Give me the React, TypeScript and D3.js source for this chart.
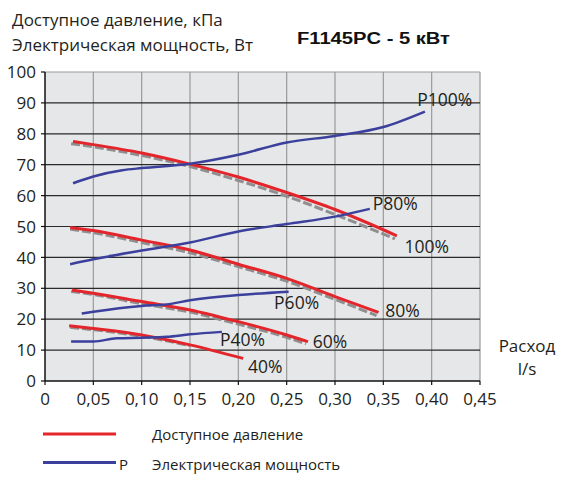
import React from "react";
import * as d3 from "d3";

const W = 565;
const H = 483;

const xTicks = [0, 0.05, 0.1, 0.15, 0.2, 0.25, 0.3, 0.35, 0.4, 0.45];
const yTicks = [0, 10, 20, 30, 40, 50, 60, 70, 80, 90, 100];

// Pressure curves (red), [flow l/s, kPa]
const p100: [number, number][] = [[0.029, 77.5], [0.05, 76.5], [0.1, 73.8], [0.15, 70.2], [0.2, 66], [0.25, 61], [0.3, 55.5], [0.364, 47]];
const p80: [number, number][] = [[0.026, 49.7], [0.05, 48.7], [0.1, 45.6], [0.15, 42.4], [0.2, 37.8], [0.25, 33.2], [0.3, 27.3], [0.345, 22.2]];
const p60: [number, number][] = [[0.028, 29.4], [0.05, 28.4], [0.1, 25.7], [0.15, 23], [0.2, 19.2], [0.25, 14.9], [0.272, 12.7]];
const p40: [number, number][] = [[0.025, 17.9], [0.05, 17.0], [0.1, 14.9], [0.15, 11.7], [0.205, 7.3]];

// Grey dashed reference curves
const g100: [number, number][] = [[0.027, 76.8], [0.05, 75.8], [0.1, 73.0], [0.15, 69.4], [0.2, 64.9], [0.25, 59.8], [0.3, 53.9], [0.362, 46.0]];
const g80: [number, number][] = [[0.026, 49.1], [0.05, 48.0], [0.1, 44.8], [0.15, 41.5], [0.2, 37.0], [0.25, 32.3], [0.3, 26.4], [0.343, 21.2]];
const g60: [number, number][] = [[0.027, 29.0], [0.05, 28.0], [0.1, 25.0], [0.15, 22.3], [0.2, 18.4], [0.25, 14.1], [0.27, 12.0]];
const g40: [number, number][] = [[0.026, 17.4], [0.05, 16.6], [0.1, 14.5], [0.15, 11.4]];

// Electrical power curves (blue), [flow l/s, W]
const e100: [number, number][] = [[0.029, 64], [0.05, 66.2], [0.08, 68.2], [0.1, 68.9], [0.15, 70.3], [0.2, 73.2], [0.25, 77.2], [0.3, 79.3], [0.35, 82.2], [0.393, 87.2]];
const e80: [number, number][] = [[0.026, 37.8], [0.05, 39.4], [0.1, 42.2], [0.15, 44.8], [0.2, 48.4], [0.25, 50.8], [0.3, 53.2], [0.336, 55.7]];
const e60: [number, number][] = [[0.038, 21.8], [0.05, 22.4], [0.1, 24.3], [0.126, 24.8], [0.15, 26.1], [0.2, 27.8], [0.252, 28.9]];
const e40: [number, number][] = [[0.027, 12.8], [0.05, 12.8], [0.074, 13.8], [0.1, 14.0], [0.126, 14.3], [0.15, 15.1], [0.183, 15.9]];

const redSeries = [p100, p80, p60, p40];
const greySeries = [g100, g80, g60, g40];
const blueSeries = [e100, e80, e60, e40];

const curveLabels = ["100%", "80%", "60%", "40%"];
const powerLabels = ["P100%", "P80%", "P60%", "P40%"];

const RED = "#e3262b";
const BLUE = "#3a409c";
const GREY = "#8f8f8f";
const TXT = "#231f20";
const FONT = "'Open Sans', 'Noto Sans', sans-serif";

export default function App() {
  const x = d3.scaleLinear().domain([0, 0.45]).range([45, 480]);
  const y = d3.scaleLinear().domain([0, 100]).range([381, 72]);
  const line = d3
    .line<[number, number]>()
    .x((d) => x(d[0]))
    .y((d) => y(d[1]))
    .curve(d3.curveMonotoneX);

  const fmt = (v: number) => (v === 0 ? "0" : d3.format(".2f")(v).replace(".", ","));

  // label anchors (data coords) for curve labels
  const redLabelPos: [number, number][] = [[0.372, 41.5], [0.352, 20.8], [0.277, 10.8], [0.21, 2.6]];
  const blueLabelPos: [number, number][] = [[0.385, 89.1], [0.339, 55.2], [0.237, 23.3], [0.181, 11.2]];

  return (
    <svg
      width={W}
      height={H}
      style={{ position: "absolute", left: 0, top: 0, background: "#fff" }}
      fontFamily={FONT}
    >
      <rect x={x(0)} y={y(100)} width={x(0.45) - x(0)} height={y(0) - y(100)} fill="#e6e7e9" />
      {xTicks.slice(1).map((t) => (
        <line key={"vx" + t} x1={x(t)} x2={x(t)} y1={y(0)} y2={y(100)} stroke="#9a9a9a" strokeWidth={1.2} />
      ))}
      {yTicks.slice(1, -1).map((t) => (
        <line key={"hy" + t} x1={x(0)} x2={x(0.45)} y1={y(t)} y2={y(t)} stroke="#2a2a2a" strokeWidth={1.2} />
      ))}
      <line x1={x(0)} x2={x(0.45)} y1={y(100)} y2={y(100)} stroke="#9a9a9a" strokeWidth={1.2} />
      {/* axes */}
      <line x1={x(0)} x2={x(0)} y1={y(0)} y2={y(100)} stroke="#111" strokeWidth={1.5} />
      <line x1={x(0)} x2={x(0.45)} y1={y(0)} y2={y(0)} stroke="#111" strokeWidth={1.5} />
      {yTicks.map((t) => (
        <g key={"yt" + t}>
          <line x1={x(0) - 4} x2={x(0)} y1={y(t)} y2={y(t)} stroke="#111" strokeWidth={1.2} />
          <text x={36} y={y(t)} dy="0.36em" textAnchor="end" fontSize={17} fill={TXT}>
            {t}
          </text>
        </g>
      ))}
      {xTicks.map((t) => (
        <g key={"xt" + t}>
          <line x1={x(t)} x2={x(t)} y1={y(0)} y2={y(0) + 4} stroke="#111" strokeWidth={1.2} />
          <text x={x(t)} y={405} textAnchor="middle" fontSize={17} fill={TXT}>
            {fmt(t)}
          </text>
        </g>
      ))}

      {/* curves */}
      {greySeries.map((s, i) => (
        <path key={"g" + i} d={line(s) || ""} fill="none" stroke={GREY} strokeWidth={3} strokeDasharray="9 3" />
      ))}
      {redSeries.map((s, i) => (
        <path key={"r" + i} d={line(s) || ""} fill="none" stroke={RED} strokeWidth={3} />
      ))}
      {blueSeries.map((s, i) => (
        <path key={"b" + i} d={line(s) || ""} fill="none" stroke={BLUE} strokeWidth={2.5} />
      ))}

      {curveLabels.map((l, i) => (
        <text key={"rl" + i} x={x(redLabelPos[i][0])} y={y(redLabelPos[i][1])} fontSize={17.5} fill={TXT}>
          {l}
        </text>
      ))}
      {powerLabels.map((l, i) => (
        <text key={"bl" + i} x={x(blueLabelPos[i][0])} y={y(blueLabelPos[i][1])} fontSize={17.5} fill={TXT}>
          {l}
        </text>
      ))}

      {/* titles */}
      <text x={12} y={26} fontSize={17} fill={TXT}>Доступное давление, кПа</text>
      <text x={12} y={51} fontSize={17} fill={TXT}>Электрическая мощность, Вт</text>
      <text
        x={297}
        y={44}
        fontSize={16}
        fontWeight="bold"
        fontFamily="'Liberation Sans', Arial, sans-serif"
        fill="#111"
        textLength={153}
        lengthAdjust="spacingAndGlyphs"
      >
        F1145PC - 5 кВт
      </text>
      <text x={527} y={352} textAnchor="middle" fontSize={17} fill={TXT}>Расход</text>
      <text x={527} y={375} textAnchor="middle" fontSize={17} fill={TXT}>l/s</text>

      {/* legend */}
      <line x1={43} x2={116} y1={434} y2={434} stroke={RED} strokeWidth={3} />
      <text x={152} y={440} fontSize={15} fill={TXT}>Доступное давление</text>
      <line x1={43} x2={116} y1={462.5} y2={462.5} stroke={BLUE} strokeWidth={3} />
      <text x={119} y={470} fontSize={15} fill={TXT}>P</text>
      <text x={152} y={470} fontSize={15} fill={TXT}>Электрическая мощность</text>
    </svg>
  );
}
